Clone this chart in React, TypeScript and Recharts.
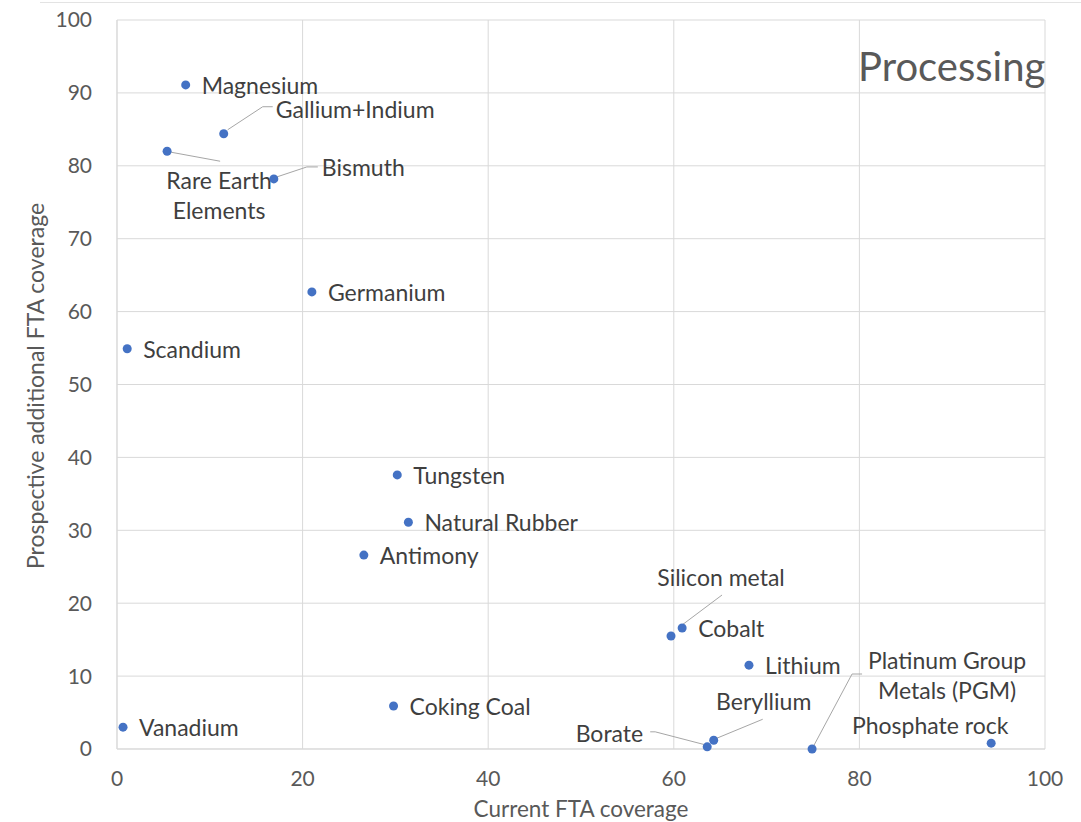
import React from "react";
import { CartesianGrid, Scatter, ScatterChart, XAxis, YAxis } from "recharts";

const minerals = [
  "Magnesium",
  "Gallium+Indium",
  "Rare Earth Elements",
  "Bismuth",
  "Germanium",
  "Scandium",
  "Tungsten",
  "Natural Rubber",
  "Antimony",
  "Silicon metal",
  "Cobalt",
  "Lithium",
  "Coking Coal",
  "Vanadium",
  "Borate",
  "Beryllium",
  "Platinum Group Metals (PGM)",
  "Phosphate rock",
];
const currentCoverage = [7.4, 11.5, 5.4, 16.9, 21.0, 1.1, 30.2, 31.4, 26.6, 59.7, 60.9, 68.1, 29.8, 0.65, 63.6, 64.3, 74.9, 94.2];
const prospectiveCoverage = [91.1, 84.4, 82.0, 78.2, 62.7, 54.9, 37.6, 31.1, 26.6, 15.5, 16.6, 11.5, 5.9, 3.0, 0.3, 1.2, 0.0, 0.8];
const labelLines: Record<string, string[]> = {
  "Rare Earth Elements": ["Rare Earth", "Elements"],
  "Platinum Group Metals (PGM)": ["Platinum Group", "Metals (PGM)"],
};
const xTicks = [0, 20, 40, 60, 80, 100];
const yTicks = [0, 10, 20, 30, 40, 50, 60, 70, 80, 90, 100];

const data = minerals.map((name, i) => ({
  name,
  x: currentCoverage[i],
  y: prospectiveCoverage[i],
}));

// label placement relative to the dot (px)
type Place = { dx: number; dy: number; anchor?: "start" | "middle" | "end"; leader?: number[][] };
const placement: Record<string, Place> = {
  "Gallium+Indium": { dx: 52, dy: -25, leader: [[4, -4], [39, -27], [49, -27]] },
  "Rare Earth Elements": { dx: 52, dy: 29, anchor: "middle", leader: [[4, 1], [53, 10]] },
  Bismuth: { dx: 48, dy: -12, leader: [[3, -2], [33, -12], [44, -12]] },
  "Silicon metal": { dx: 50, dy: -59, anchor: "middle", leader: [[7, -8], [51, -41]] },
  Beryllium: { dx: 50, dy: -39, anchor: "middle", leader: [[3, -2], [49, -21]] },
  Borate: { dx: -64, dy: -14, anchor: "end", leader: [[-2, -2], [-52, -15], [-57, -15]] },
  "Platinum Group Metals (PGM)": { dx: 135, dy: -89, anchor: "middle", leader: [[1, -2], [40, -75], [50, -75]] },
  "Phosphate rock": { dx: -61, dy: -18, anchor: "middle" },
};

const FONT = "Lato, 'Open Sans', sans-serif";

const PointWithLabel = (props: any) => {
  const { cx, cy, payload } = props;
  const p = placement[payload.name] || { dx: 16, dy: 0 };
  const lines = labelLines[payload.name] || [payload.name];
  return (
    <g>
      {p.leader && (
        <polyline
          points={p.leader.map(([a, b]) => `${cx + a},${cy + b}`).join(" ")}
          fill="none"
          stroke="#a6a6a6"
          strokeWidth={1}
        />
      )}
      {lines.map((t, k) => (
        <text
          key={k}
          x={cx + p.dx}
          y={cy + p.dy + k * 30}
          textAnchor={p.anchor || "start"}
          dominantBaseline="central"
          fontFamily={FONT}
          fontSize={23}
          fill="#3f3f3f"
        >
          {t}
        </text>
      ))}
      <circle cx={cx} cy={cy} r={4.5} fill="#4472C4" />
    </g>
  );
};

export default function App() {
  return (
    <div style={{ position: "absolute", left: 0, top: 0, width: 1081, height: 822, background: "#fff" }}>
      <div style={{ position: "absolute", left: 40, right: 0, top: 2, borderTop: "1px solid #e3e3e3" }} />
      <ScatterChart width={1081} height={822} margin={{ top: 20, right: 36, bottom: 0, left: 0 }}>
        <CartesianGrid stroke="#d9d9d9" />
        <XAxis
          type="number"
          dataKey="x"
          domain={[0, 100]}
          ticks={xTicks}
          height={73}
          axisLine={{ stroke: "#d9d9d9" }}
          tickLine={false}
          tickSize={0}
          tickMargin={22}
          tick={{ fill: "#595959", fontSize: 21, fontFamily: FONT }}
          label={{
            content: () => (
              <text x={581} y={808} textAnchor="middle" dominantBaseline="central" fontFamily={FONT} fontSize={22.5} fill="#595959">
                Current FTA coverage
              </text>
            ),
          }}
        />
        <YAxis
          type="number"
          dataKey="y"
          domain={[0, 100]}
          ticks={yTicks}
          width={117}
          axisLine={{ stroke: "#d9d9d9" }}
          tickLine={false}
          tickSize={0}
          tickMargin={25}
          tick={{ fill: "#595959", fontSize: 21, fontFamily: FONT }}
          label={{
            content: () => (
              <text
                x={35}
                y={386}
                transform="rotate(-90 35 386)"
                textAnchor="middle"
                dominantBaseline="central"
                fontFamily={FONT}
                fontSize={23}
                fill="#595959"
              >
                Prospective additional FTA coverage
              </text>
            ),
          }}
        />
        <Scatter data={data} fill="#4472C4" shape={PointWithLabel} isAnimationActive={false} />
      </ScatterChart>
      <div
        style={{
          position: "absolute",
          left: 858,
          top: 42,
          fontFamily: FONT,
          fontSize: 40,
          color: "#595959",
          lineHeight: "48px",
        }}
      >
        Processing
      </div>
    </div>
  );
}
